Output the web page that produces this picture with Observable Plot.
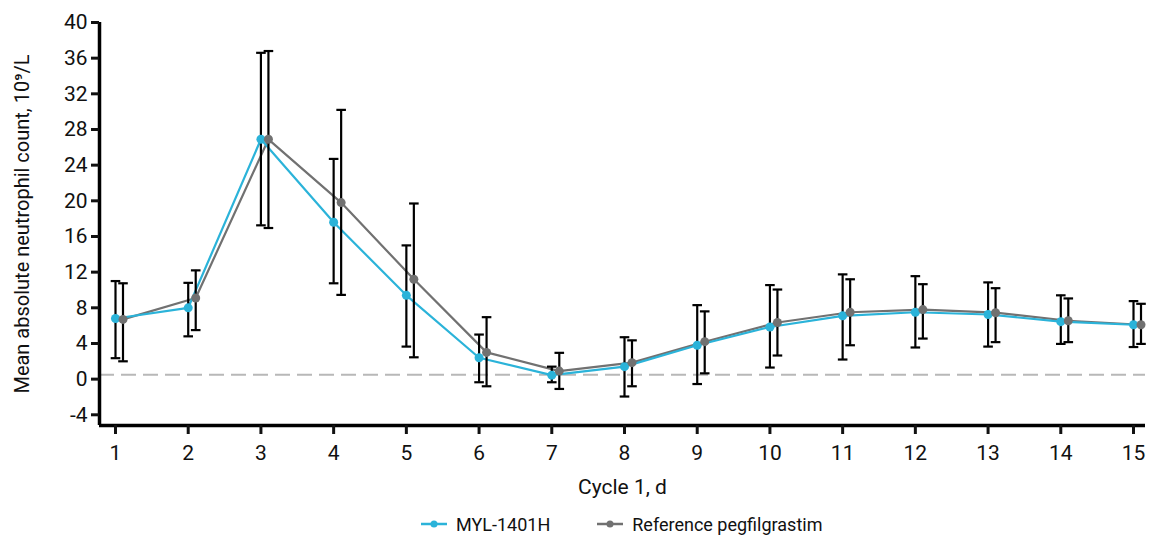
<!DOCTYPE html>
<html>
<head>
<meta charset="utf-8">
<script src="https://cdn.jsdelivr.net/npm/d3@7"></script>
<script src="https://cdn.jsdelivr.net/npm/@observablehq/plot@0.6"></script>
<style>
  html, body { margin: 0; padding: 0; background: #fff; }
  body { width: 1149px; height: 536px; overflow: hidden; font-family: Roboto, "Liberation Sans", sans-serif; }
  #legend { display: flex; justify-content: flex-start; align-items: center; height: 26px; padding-top: 6px; font-size: 18px; color: #111; padding-left: 421px; }
  .item { display: flex; align-items: center; margin-right: 47px; }
  .item svg { margin-right: 9px; }
</style>
</head>
<body>
<div id="chart"></div>
<div id="legend"></div>
<script>
const days = [1, 2, 3, 4, 5, 6, 7, 8, 9, 10, 11, 12, 13, 14, 15];
const mylMean  = [6.8, 8.0, 26.9, 17.6, 9.4, 2.4, 0.45, 1.4, 3.8, 5.85, 7.1, 7.5, 7.25, 6.45, 6.1];
const mylUpper = [11.0, 10.8, 36.6, 24.7, 15.0, 5.0, 1.4, 4.7, 8.3, 10.55, 11.75, 11.55, 10.85, 9.4, 8.75];
const mylLower = [2.35, 4.8, 17.25, 10.75, 3.65, -0.35, -0.35, -1.95, -0.55, 1.3, 2.2, 3.55, 3.65, 3.95, 3.6];
const refMean  = [6.7, 9.1, 26.9, 19.8, 11.2, 3.0, 0.9, 1.85, 4.2, 6.35, 7.5, 7.8, 7.45, 6.55, 6.1];
const refUpper = [10.75, 12.2, 36.8, 30.2, 19.7, 6.95, 2.95, 4.35, 7.6, 10.05, 11.2, 10.65, 10.2, 9.05, 8.45];
const refLower = [2.0, 5.5, 16.95, 9.45, 2.45, -0.8, -1.1, -0.8, 0.65, 2.65, 3.8, 4.55, 4.15, 4.15, 3.95];
const seriesNames = ["MYL-1401H", "Reference pegfilgrastim"];
const seriesColors = ["#2bb3d9", "#717171"];
const yTicks = [-4, 0, 4, 8, 12, 16, 20, 24, 28, 32, 36, 40];
const xDomain = [0.78, 15.165];
const yDomain = [-5.2, 40];
const threshold = [0.5];
const xLabel = "Cycle 1, d";
const yLabel = "Mean absolute neutrophil count, 10\u2079/L";

const font = 'Roboto, "Liberation Sans", sans-serif';

const myl = days.map((d, i) => ({day: d, mean: mylMean[i], lo: mylLower[i], hi: mylUpper[i]}));
const ref = days.map((d, i) => ({day: d, mean: refMean[i], lo: refLower[i], hi: refUpper[i]}));

const capSymbol = {
  draw(ctx, size) {
    const w = Math.sqrt(size / Math.PI);
    ctx.moveTo(-w, 0);
    ctx.lineTo(w, 0);
  }
};

const refDx = 7.5;

function seriesMarks(data, dx) {
  return [
    Plot.ruleX(data, {x: "day", y1: "lo", y2: "hi", stroke: "#000", strokeWidth: 2.2, dx}),
    Plot.dot(data, {x: "day", y: "hi", symbol: capSymbol, r: 4.8, stroke: "#000", strokeWidth: 2.2, fill: "none", dx}),
    Plot.dot(data, {x: "day", y: "lo", symbol: capSymbol, r: 4.8, stroke: "#000", strokeWidth: 2.2, fill: "none", dx})
  ];
}

const chart = Plot.plot({
  width: 1149,
  height: 505,
  marginLeft: 99,
  marginRight: 4,
  marginTop: 22,
  marginBottom: 80,
  style: {fontFamily: font, fontSize: "21px", color: "#111", background: "#fff"},
  x: {domain: xDomain},
  y: {domain: yDomain},
  marks: [
    Plot.ruleY(threshold, {stroke: "#b8b8b8", strokeWidth: 2, strokeDasharray: "15,7"}),
    Plot.line(ref, {x: "day", y: "mean", stroke: seriesColors[1], strokeWidth: 2.2, dx: refDx}),
    Plot.line(myl, {x: "day", y: "mean", stroke: seriesColors[0], strokeWidth: 2.2}),
    ...seriesMarks(myl, 0),
    ...seriesMarks(ref, refDx),
    Plot.dot(myl, {x: "day", y: "mean", r: 4.5, fill: seriesColors[0]}),
    Plot.dot(ref, {x: "day", y: "mean", r: 4.5, fill: seriesColors[1], dx: refDx}),
    Plot.ruleX([xDomain[0]], {stroke: "#000", strokeWidth: 3.5}),
    Plot.ruleY([yDomain[0]], {stroke: "#000", strokeWidth: 3.5}),
    Plot.axisY(yTicks, {tickSize: 8, tickPadding: 4, strokeWidth: 3, fontSize: 21, label: null, tickFormat: d => String(d)}),
    Plot.axisX(days, {tickSize: 9, tickPadding: 11, strokeWidth: 3, fontSize: 21, label: null, tickFormat: d => String(d)}),
    Plot.text([yLabel], {frameAnchor: "left", textAnchor: "middle", rotate: -90, dx: -77, fontSize: 20, fill: "#111"}),
    Plot.text([xLabel], {frameAnchor: "bottom", textAnchor: "middle", dy: 68, fontSize: 21, fill: "#111"})
  ]
});
document.getElementById("chart").appendChild(chart);

const legend = document.getElementById("legend");
seriesNames.forEach((name, i) => {
  const item = document.createElement("div");
  item.className = "item";
  item.innerHTML = `<svg width="26" height="10"><line x1="0" y1="5" x2="26" y2="5" stroke="${seriesColors[i]}" stroke-width="2.5"/><circle cx="13" cy="5" r="3.5" fill="${seriesColors[i]}"/></svg><span>${name}</span>`;
  legend.appendChild(item);
});
</script>
</body>
</html>
